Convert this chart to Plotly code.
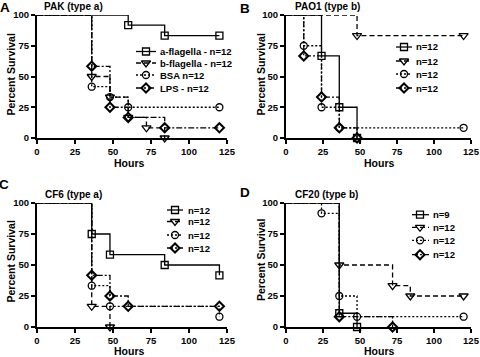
import plotly.graph_objects as go

# ---------------- data ----------------
TICKS_X = [0, 25, 50, 75, 100, 125]
TICKS_Y = [0, 25, 50, 75, 100]

# Panel A: PAK (type a)
A_names = ["a-flagella - n=12", "b-flagella - n=12", "BSA n=12", "LPS - n=12"]
A_sq_t = [60, 84, 120];            A_sq_s = [91.7, 83.3, 83.3]
A_tr_t = [36, 48, 60, 72, 84];     A_tr_s = [50, 33.3, 16.7, 8.3, 0]
A_ci_t = [36, 48, 60, 120];        A_ci_s = [41.7, 33.3, 25, 25]
A_di_t = [36, 48, 60, 84, 120];    A_di_s = [58.3, 25, 16.7, 8.3, 8.3]

# Panel B: PAO1 (type b)
B_names = ["n=12", "n=12", "n=12", "n=12"]
B_sq_t = [24, 36, 48];             B_sq_s = [66.7, 25, 0]
B_tr_t = [48, 120];                B_tr_s = [83.3, 83.3]
B_ci_t = [12, 24, 36, 120];        B_ci_s = [75, 25, 8.3, 8.3]
B_di_t = [12, 24, 36, 48];         B_di_s = [66.7, 33.3, 8.3, 0]

# Panel C: CF6 (type a)
C_names = ["n=12", "n=12", "n=12", "n=12"]
C_sq_t = [36, 48, 84, 120];        C_sq_s = [75, 58.3, 50, 41.7]
C_tr_t = [36, 48];                 C_tr_s = [16.7, 0]
C_ci_t = [36, 48, 120];            C_ci_s = [33.3, 16.7, 8.3]
C_di_t = [36, 48, 60, 120];        C_di_s = [41.7, 25, 16.7, 16.7]

# Panel D: CF20 (type b)
D_names = ["n=9", "n=12", "n=12", "n=12"]
D_sq_t = [36, 48];                 D_sq_s = [11.1, 0]
D_tr_t = [36, 72, 84, 120];        D_tr_s = [50, 33.3, 25, 25]
D_ci_t = [24, 36, 48, 120];        D_ci_s = [91.7, 25, 8.3, 8.3]
D_di_t = [36, 72];                 D_di_s = [8.3, 0]

PANEL_TITLES = ["PAK (type a)", "PAO1 (type b)", "CF6 (type a)", "CF20 (type b)"]
PANEL_LETTERS = ["A", "B", "C", "D"]
X_TITLE = "Hours"
Y_TITLE = "Percent Survival"

# ---------------- styles / layout ----------------
W, H = 480, 357
FONT = "Liberation Sans, Arial, Helvetica, sans-serif"
STYLES = [
    dict(symbol="square-open", size=7, dash="solid", mlw=1.3),
    dict(symbol="triangle-down-open", size=8, dash="5px,3px", mlw=1.3),
    dict(symbol="circle-open", size=7, dash="2px,2px", mlw=1.3),
    dict(symbol="diamond-open", size=7, dash="6px,2px,2px,2px", mlw=2.0),
]
LW = 1.3

# pixel boxes of plot areas: (x0, x1, y_top, y_bottom)
BOXES = [(37, 227, 15, 138), (286, 471, 15, 138),
         (37, 227, 203, 327), (286, 471, 203, 327)]
LETTER_POS = [(5, 7), (245, 8), (4, 184.5), (244.5, 192)]
TITLE_POS = [(73, 6.5), (327.5, 6.5), (73, 194.7), (326.5, 195)]
YTITLE_POS = [(10.5, 75), (260.5, 75), (10.5, 262), (261, 260)]
XTITLE_POS = [(129, 163.5), (379, 163.5), (129, 351), (379, 351)]
# legend: (line x0, line x1, marker x, text x, [row ys])
LEGENDS = [(136, 156, 146, 158, [51.5, 63, 75, 88]),
           (396, 412, 404, 414, [47, 61, 74, 88]),
           (167, 183, 175, 185.5, [210, 221.5, 235, 248]),
           (412, 429, 420, 431, [214.7, 227.3, 240.3, 254.7])]

panels = [
    (A_names, [(A_sq_t, A_sq_s), (A_tr_t, A_tr_s), (A_ci_t, A_ci_s), (A_di_t, A_di_s)]),
    (B_names, [(B_sq_t, B_sq_s), (B_tr_t, B_tr_s), (B_ci_t, B_ci_s), (B_di_t, B_di_s)]),
    (C_names, [(C_sq_t, C_sq_s), (C_tr_t, C_tr_s), (C_ci_t, C_ci_s), (C_di_t, C_di_s)]),
    (D_names, [(D_sq_t, D_sq_s), (D_tr_t, D_tr_s), (D_ci_t, D_ci_s), (D_di_t, D_di_s)]),
]

fig = go.Figure()
layout = dict(template="none", width=W, height=H, autosize=False,
              margin=dict(l=0, r=0, t=0, b=0, pad=0),
              paper_bgcolor="white", plot_bgcolor="rgba(0,0,0,0)",
              showlegend=False,
              font=dict(family=FONT, size=10, color="black", weight="bold"))
annotations = []

def px(x):
    return x / W

def py(y):
    return 1 - y / H

for i, (names, series) in enumerate(panels):
    k = i + 1
    xa, ya = f"x{k}", f"y{k}"
    x0, x1, yt, yb = BOXES[i]
    common = dict(showline=True, linewidth=2, linecolor="black", ticks="outside",
                  ticklen=4, tickwidth=1.6, tickcolor="black", showgrid=False,
                  zeroline=False, fixedrange=True, automargin=False, mirror=False,
                  ticklabeloverflow="allow",
                  tickfont=dict(family=FONT, size=9.5, color="black", weight="bold"))
    layout[f"xaxis{k}"] = dict(domain=[px(x0), px(x1)], anchor=ya, range=[0, 125],
                               tickvals=TICKS_X, ticktext=[str(v) for v in TICKS_X], **common)
    layout[f"yaxis{k}"] = dict(domain=[py(yb), py(yt)], anchor=xa, range=[0, 100],
                               tickvals=TICKS_Y, ticktext=[str(v) for v in TICKS_Y], **common)
    for j, (t, s) in enumerate(series):
        st = STYLES[j]
        fig.add_trace(go.Scatter(x=[0] + list(t), y=[100] + list(s), mode="lines",
                                 line=dict(color="black", width=LW, dash=st["dash"], shape="hv"),
                                 xaxis=xa, yaxis=ya, cliponaxis=False, hoverinfo="skip"))
    for j, (t, s) in enumerate(series):
        st = STYLES[j]
        fig.add_trace(go.Scatter(x=t, y=s, mode="markers",
                                 marker=dict(symbol=st["symbol"], size=st["size"], color="black",
                                             line=dict(color="black", width=st["mlw"])),
                                 xaxis=xa, yaxis=ya, cliponaxis=False, hoverinfo="skip"))
    # legend keys (drawn on a pixel-space overlay axis)
    lx0, lx1, lmx, ltx, rows = LEGENDS[i]
    for j, name in enumerate(names):
        st = STYLES[j]
        fig.add_trace(go.Scatter(x=[lx0, lx1], y=[rows[j], rows[j]], mode="lines",
                                 line=dict(color="black", width=LW, dash=st["dash"]),
                                 xaxis="x5", yaxis="y5", cliponaxis=False, hoverinfo="skip"))
        fig.add_trace(go.Scatter(x=[lmx], y=[rows[j]], mode="markers",
                                 marker=dict(symbol=st["symbol"], size=st["size"], color="black",
                                             line=dict(color="black", width=st["mlw"])),
                                 xaxis="x5", yaxis="y5", cliponaxis=False, hoverinfo="skip"))
        annotations.append(dict(x=px(ltx), y=py(rows[j]), xref="paper", yref="paper",
                                text=name, showarrow=False, xanchor="left", yanchor="middle",
                                font=dict(family=FONT, size=9.5, weight="bold")))
    lx, ly = LETTER_POS[i]
    annotations.append(dict(x=px(lx), y=py(ly), xref="paper", yref="paper", text=PANEL_LETTERS[i],
                            showarrow=False, xanchor="center", yanchor="middle",
                            font=dict(family=FONT, size=13.5, weight="bold")))
    tx, ty = TITLE_POS[i]
    annotations.append(dict(x=px(tx), y=py(ty), xref="paper", yref="paper", text=PANEL_TITLES[i],
                            showarrow=False, xanchor="center", yanchor="middle",
                            font=dict(family=FONT, size=10, weight="bold")))
    yx, yy = YTITLE_POS[i]
    annotations.append(dict(x=px(yx), y=py(yy), xref="paper", yref="paper", text=Y_TITLE,
                            showarrow=False, xanchor="center", yanchor="middle", textangle=-90,
                            font=dict(family=FONT, size=10.5, weight="bold")))
    hx, hy = XTITLE_POS[i]
    annotations.append(dict(x=px(hx), y=py(hy), xref="paper", yref="paper", text=X_TITLE,
                            showarrow=False, xanchor="center", yanchor="middle",
                            font=dict(family=FONT, size=10.5, color="black", weight="bold")))

layout["xaxis5"] = dict(domain=[0, 1], range=[0, W], visible=False, anchor="y5",
                        fixedrange=True, automargin=False)
layout["yaxis5"] = dict(domain=[0, 1], range=[H, 0], visible=False, anchor="x5",
                        fixedrange=True, automargin=False)
layout["annotations"] = annotations
fig.update_layout(**layout)
fig.write_html("out.html", config={"displayModeBar": False},
               post_script="document.body.style.margin='0';document.body.style.padding='0';"
                           "document.body.style.overflow='hidden';")
